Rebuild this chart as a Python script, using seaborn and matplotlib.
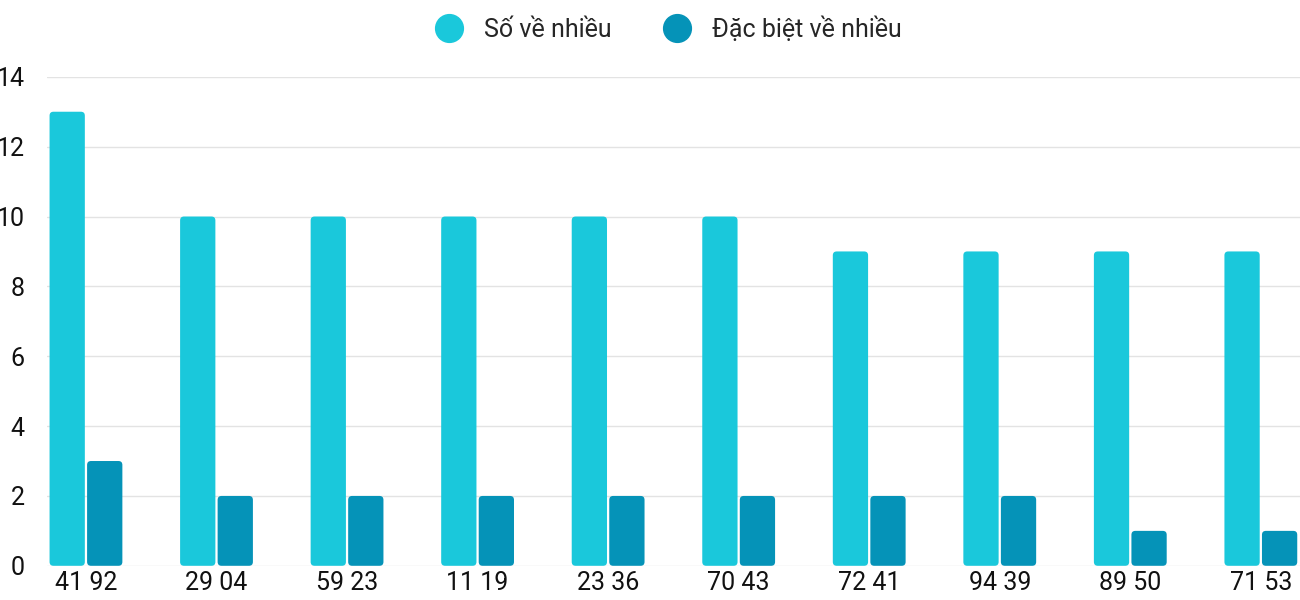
import matplotlib
matplotlib.use("Agg")
import matplotlib.pyplot as plt
import seaborn as sns
import pandas as pd
from matplotlib.patches import FancyBboxPatch
from matplotlib.lines import Line2D

categories = ["41 92", "29 04", "59 23", "11 19", "23 36", "70 43", "72 41", "94 39", "89 50", "71 53"]
so_ve_nhieu = [13, 10, 10, 10, 10, 10, 9, 9, 9, 9]
dac_biet = [3, 2, 2, 2, 2, 2, 2, 2, 1, 1]
series_names = ["Số về nhiều", "Đặc biệt về nhiều"]
colors = ["#1AC8DB", "#0593B8"]

df = pd.DataFrame({
    "cat": categories * 2,
    "val": so_ve_nhieu + dac_biet,
    "series": [series_names[0]] * len(categories) + [series_names[1]] * len(categories),
})

sns.set_theme(style="white")
plt.rcParams['font.family'] = ['Roboto', 'DejaVu Sans']
fig = plt.figure(figsize=(13, 6), dpi=100)
ax = fig.add_axes([0.036, 0.057, 0.964, 0.815])
sns.barplot(data=df, x="cat", y="val", hue="series", palette=colors, width=0.575, gap=0.06,
            ax=ax, legend=False, saturation=1)
ax.set_xlim(-0.3, 9.3)
ax.set_ylim(0, 14)
ax.set_yticks(range(0, 15, 2))
ax.grid(axis="y", color="#e3e3e3", linewidth=1)
ax.set_axisbelow(True)
for s in ax.spines.values():
    s.set_visible(False)
ax.set_xlabel("")
ax.set_ylabel("")
ax.tick_params(axis="both", labelsize=18, length=0, colors="#111111")
ax.tick_params(axis="x", pad=4)
ax.tick_params(axis="y", pad=16)

# rounded tops
fig.canvas.draw()
bbox = ax.get_window_extent()
aspect = (14 / bbox.height) / (9.6 / bbox.width)
for p in list(ax.patches):
    x, y = p.get_x(), p.get_y()
    w, h = p.get_width(), p.get_height()
    if h <= 0:
        continue
    fc = p.get_facecolor()
    p.remove()
    ax.add_patch(FancyBboxPatch((x, y), w, h, boxstyle="round,pad=0,rounding_size=0.03",
                                mutation_aspect=aspect, facecolor=fc, edgecolor="none"))

handles = [Line2D([], [], marker="o", linestyle="", markersize=20, color=c) for c in colors]
fig.legend(handles, series_names, loc="center", bbox_to_anchor=(0.51, 0.952), ncol=2,
           frameon=False, fontsize=18, handletextpad=0.4, columnspacing=1.6)

fig.savefig("out.png", dpi=100)
